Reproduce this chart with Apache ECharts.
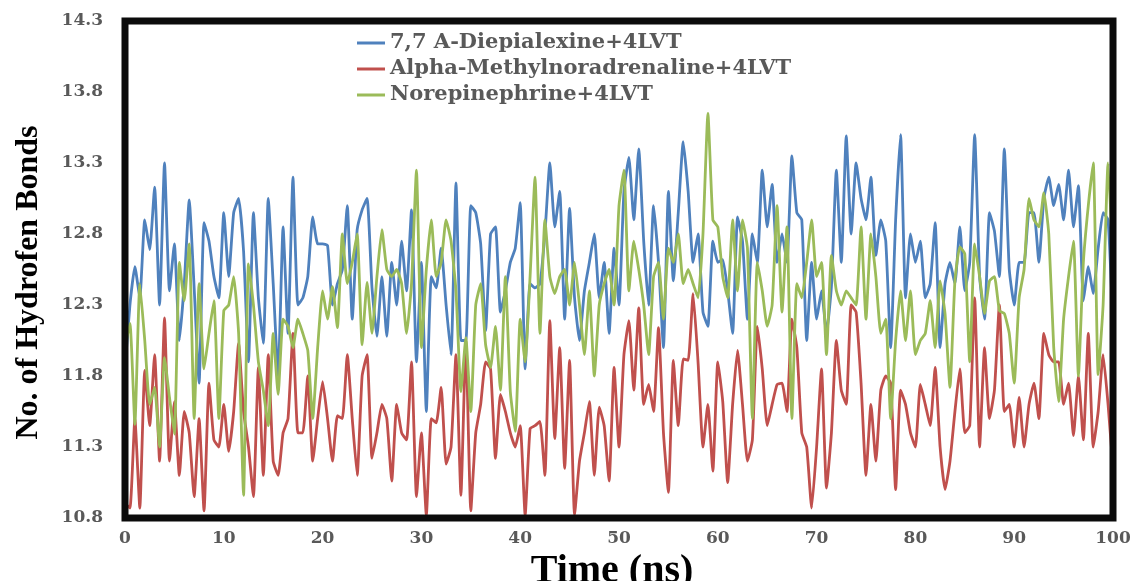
<!DOCTYPE html>
<html>
<head>
<meta charset="utf-8">
<script src="https://cdn.jsdelivr.net/npm/echarts@6/dist/echarts.min.js"></script>
<style>
html,body{margin:0;padding:0;background:#fff;}
#chart{width:1131px;height:581px;}
</style>
</head>
<body>
<div id="chart"></div>
<script>
// Time sampling (ns) of the trajectory
const timeStep = 0.5;
const seriesNames = ['7,7 A-Diepialexine+4LVT', 'Alpha-Methylnoradrenaline+4LVT', 'Norepinephrine+4LVT'];
const xTicks = [0, 10, 20, 30, 40, 50, 60, 70, 80, 90, 100];
const yTicks = [10.8, 11.3, 11.8, 12.3, 12.8, 13.3, 13.8, 14.3];
const xTitle = 'Time (ns)';
const yTitle = 'No. of Hydrofen Bonds';

const diepialexine = [
 11.85,12.3,12.57,12.35,12.9,12.69,13.13,12.3,13.3,12.4,
 12.73,12.05,12.45,13.04,12.42,11.75,12.88,12.75,12.5,12.35,
 12.95,12.5,12.95,13.05,12.68,11.9,12.95,12.35,12.03,13.05,
 12.45,11.8,12.85,12.1,13.2,12.3,12.35,12.5,12.92,12.73,
 12.73,12.72,12.3,12.45,12.55,13.0,12.2,12.83,12.97,13.05,
 12.42,12.08,12.5,12.08,12.6,12.3,12.75,12.4,12.97,11.9,
 12.6,11.55,12.5,12.42,12.7,12.3,11.95,13.16,12.05,12.05,
 13.0,12.95,12.73,12.12,12.8,12.85,12.25,12.4,12.6,12.7,
 13.02,11.85,12.45,12.42,12.45,12.8,13.3,12.85,13.1,12.2,
 12.98,12.35,12.05,12.4,12.6,12.8,12.35,12.6,12.1,12.7,
 12.3,13.1,13.34,12.9,13.4,12.75,12.3,13.0,12.6,12.0,
 13.1,12.47,12.95,13.45,13.1,12.6,12.8,12.25,12.15,12.75,
 12.6,12.62,12.4,12.1,12.92,12.75,12.2,12.8,12.6,13.25,
 12.85,13.15,12.6,12.8,12.6,13.35,12.95,12.9,12.05,12.6,
 12.2,12.4,12.1,12.43,13.25,12.6,13.49,12.8,13.3,13.05,
 12.9,13.2,12.65,12.9,12.75,12.0,12.9,13.5,12.35,12.8,
 12.6,12.75,12.35,12.45,12.88,12.0,12.45,12.6,12.45,12.85,
 12.4,12.6,13.5,12.5,12.2,12.95,12.82,12.5,13.4,12.55,
 12.3,12.6,12.6,12.95,12.95,12.6,13.05,13.2,13.0,13.15,
 12.9,13.25,12.85,13.14,12.33,12.57,12.38,12.7,12.95,12.9,
 12.14
];
const methylnoradrenaline = [
 10.9,10.87,11.5,10.87,11.84,11.45,11.95,11.2,12.21,11.2,
 11.62,11.1,11.55,11.4,10.95,11.5,10.85,11.75,11.35,11.3,
 11.6,11.27,11.55,12.03,11.55,11.3,10.95,11.86,11.1,11.95,
 11.2,11.1,11.4,11.5,12.1,11.4,11.4,11.8,11.2,11.5,
 11.76,11.5,11.2,11.52,11.5,11.95,11.5,11.1,11.8,11.95,
 11.22,11.4,11.6,11.5,11.06,11.6,11.4,11.35,11.9,10.95,
 11.4,10.82,11.5,11.47,11.72,11.18,11.3,11.95,10.96,12.05,
 10.85,11.4,11.6,11.9,11.85,11.22,11.67,11.55,11.4,11.3,
 11.45,10.82,11.43,11.45,11.48,11.1,12.19,11.36,12.0,11.15,
 11.91,10.82,11.2,11.4,11.62,11.1,11.58,11.45,11.06,11.86,
 11.3,11.95,12.19,11.7,12.28,11.6,11.74,11.55,12.14,11.4,
 10.98,11.91,11.45,11.92,11.91,12.38,11.9,11.3,11.6,11.13,
 11.9,11.62,11.05,11.6,11.98,11.6,11.2,11.35,12.15,11.85,
 11.45,11.6,11.74,11.75,11.55,12.2,12.0,11.4,11.3,10.87,
 11.3,11.85,11.01,11.4,12.05,11.7,11.6,12.3,12.25,11.75,
 11.1,11.6,11.2,11.7,11.8,11.75,11.0,11.7,11.6,11.4,
 11.3,11.74,11.6,11.45,11.86,11.3,11.0,11.2,11.55,11.85,
 11.4,11.45,12.35,11.3,12.0,11.5,11.7,12.3,11.55,11.6,
 11.3,11.65,11.3,11.6,11.75,11.5,12.1,11.95,11.9,11.9,
 11.6,11.75,11.38,11.8,11.35,12.1,11.3,11.55,11.95,11.6,
 11.15
];
const norepinephrine = [
 12.0,12.17,11.46,12.45,12.05,11.6,11.72,11.3,11.93,11.65,
 11.39,12.6,12.33,12.73,11.5,12.45,11.85,12.1,12.33,11.5,
 12.26,12.3,12.5,12.1,10.96,12.59,12.3,11.9,11.7,11.45,
 12.1,11.67,12.2,12.15,12.0,12.2,12.1,11.98,11.5,12.0,
 12.4,12.2,12.43,12.14,12.8,12.45,12.6,12.8,12.02,12.46,
 12.1,12.5,12.83,12.55,12.5,12.55,12.45,12.1,12.45,13.25,
 12.0,12.55,12.9,12.5,12.6,12.9,12.75,12.4,11.69,12.07,
 11.55,12.3,12.45,12.02,11.86,12.15,11.7,12.5,11.69,11.41,
 12.2,11.9,12.5,13.2,12.1,12.9,12.5,12.38,12.5,12.55,
 12.3,12.6,12.3,11.95,12.4,11.8,12.3,12.45,12.55,12.3,
 13.0,13.25,12.4,12.75,12.55,12.3,11.95,12.5,12.6,12.2,
 12.7,12.6,12.8,12.45,12.55,12.45,12.35,12.8,13.65,12.9,
 12.85,12.5,12.35,12.9,12.4,12.9,12.7,11.5,12.6,12.4,
 12.15,12.3,13.0,12.25,12.85,11.5,12.45,12.35,12.6,12.9,
 12.5,12.6,11.95,12.65,12.4,12.3,12.4,12.35,12.3,12.85,
 12.2,12.8,12.5,12.1,12.2,11.5,12.05,12.4,12.05,12.4,
 11.95,12.05,12.1,12.33,12.0,12.47,12.24,11.72,12.47,12.71,
 12.66,11.9,12.73,12.5,12.24,12.47,12.5,12.26,12.24,12.1,
 11.75,12.35,12.55,13.05,12.9,12.85,13.09,12.8,12.0,11.62,
 12.2,12.5,12.75,11.8,12.6,13.0,13.3,11.81,12.3,13.3,
 12.6
];

const colors = ['#4F81BD', '#C0504D', '#9BBB59'];
const frameColor = '#0b0b0b';
const serif = '"Liberation Serif", "Times New Roman", serif';
const wideSerif = '"DejaVu Serif", "Liberation Serif", serif';

function toPairs(arr) {
  return arr.map((v, i) => [i * timeStep, v]);
}

const chart = echarts.init(document.getElementById('chart'), null, {renderer: 'canvas'});
const allData = [diepialexine, methylnoradrenaline, norepinephrine];

const xMin = xTicks[0], xMax = xTicks[xTicks.length - 1];
const yMin = yTicks[0], yMax = yTicks[yTicks.length - 1];

chart.setOption({
  animation: false,
  backgroundColor: '#ffffff',
  color: colors,
  grid: {
    left: 125, right: 18, top: 21, bottom: 63,
    outerBoundsMode: 'none',
    show: true, borderColor: frameColor, borderWidth: 6, backgroundColor: 'transparent'
  },
  legend: {
    orient: 'vertical',
    left: 357, top: 30, padding: 0,
    icon: 'rect',
    itemWidth: 28, itemHeight: 3, itemGap: 0,
    data: seriesNames,
    textStyle: {fontFamily: wideSerif, fontWeight: 'bold', fontSize: 21, color: '#595959', lineHeight: 26}
  },
  xAxis: {
    type: 'value', min: xMin, max: xMax, interval: 10,
    name: xTitle, nameLocation: 'middle', nameGap: 28,
    nameTextStyle: {fontFamily: serif, fontWeight: 'bold', fontSize: 40, color: '#000000', padding: [0, 14, 0, 0]},
    axisLine: {show: false}, axisTick: {show: false}, splitLine: {show: false},
    axisLabel: {margin: 12, fontFamily: wideSerif, fontWeight: 'bold', fontSize: 17, color: '#595959'}
  },
  yAxis: {
    type: 'value', min: yMin, max: yMax, interval: 0.5,
    name: yTitle, nameLocation: 'middle', nameGap: 80,
    nameTextStyle: {fontFamily: serif, fontWeight: 'bold', fontSize: 32, color: '#000000', padding: [0, 26, 0, 0]},
    axisLine: {show: false}, axisTick: {show: false}, splitLine: {show: false},
    axisLabel: {margin: 22, fontFamily: wideSerif, fontWeight: 'bold', fontSize: 17, color: '#595959',
      formatter: v => v.toFixed(1)}
  },
  series: allData.map((d, k) => ({
    name: seriesNames[k],
    type: 'line',
    data: toPairs(d),
    symbol: 'none',
    showSymbol: false,
    smooth: 0.15,
    lineStyle: {width: 2.8, color: colors[k]},
    itemStyle: {color: colors[k]},
    z: 2 + k
  }))
});

// Frame around the plot area, placed through the library's own scales
const topLeft = chart.convertToPixel({xAxisIndex: 0, yAxisIndex: 0}, [xMin, yMax]);
const bottomRight = chart.convertToPixel({xAxisIndex: 0, yAxisIndex: 0}, [xMax, yMin]);
chart.setOption({
  graphic: [{
    type: 'rect',
    z: 100,
    silent: true,
    shape: {
      x: topLeft[0], y: topLeft[1],
      width: bottomRight[0] - topLeft[0], height: bottomRight[1] - topLeft[1]
    },
    style: {fill: null, stroke: frameColor, lineWidth: 7}
  }]
});
</script>
</body>
</html>
